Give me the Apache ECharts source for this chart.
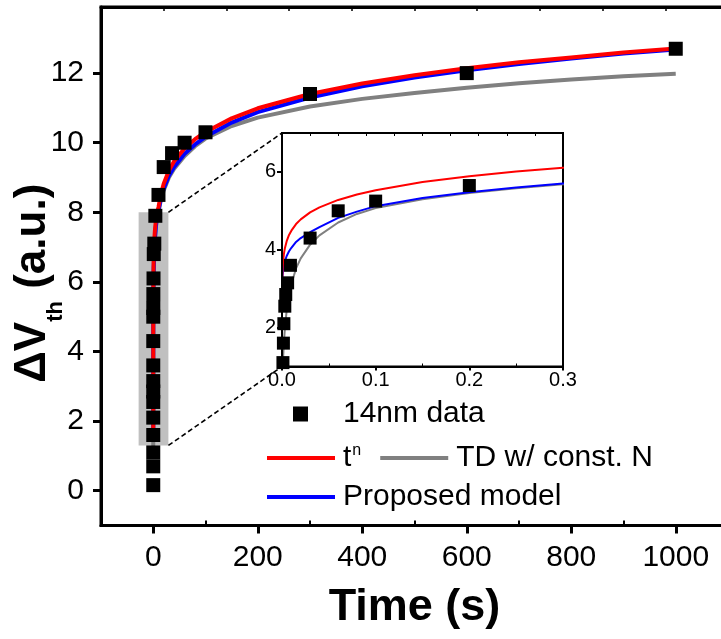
<!DOCTYPE html>
<html><head><meta charset="utf-8">
<script src="https://cdn.jsdelivr.net/npm/echarts@6/dist/echarts.min.js"></script>
<style>html,body{margin:0;padding:0;background:#fff}#c{width:721px;height:639px}</style>
</head><body><div id="c"></div>
<script>
// ---- measured data (14nm) ----
const dataTime  = [0.0001, 0.0005, 0.001, 0.0015, 0.002, 0.003, 0.004, 0.006, 0.009, 0.03, 0.06, 0.1, 0.2, 0.5, 1, 2, 4, 10, 20, 36, 60, 100, 300, 600, 1000];
const dataDVth  = [0.16, 0.7, 1.1, 1.6, 2.1, 2.55, 2.85, 3.15, 3.6, 4.3, 5.0, 5.25, 5.65, 6.1, 6.8, 7.1, 7.9, 8.5, 9.3, 9.7, 10.0, 10.3, 11.4, 12.0, 12.7];
// ---- model curves ----
const curveTime  = [1e-7, 1e-6, 1e-5, 1e-4, 0.0005, 0.001, 0.002, 0.003, 0.005, 0.0075, 0.01, 0.015, 0.02, 0.03, 0.04, 0.06, 0.08, 0.1, 0.15, 0.2, 0.25, 0.3, 0.5, 1, 2, 3, 5, 7, 10, 15, 20, 30, 40, 60, 80, 100, 150, 200, 300, 400, 500, 600, 700, 800, 900, 1000];
const curveTn    = [1.59, 1.96, 2.41, 2.96, 3.43, 3.65, 3.89, 4.03, 4.22, 4.38, 4.49, 4.66, 4.78, 4.96, 5.09, 5.28, 5.42, 5.53, 5.74, 5.89, 6.01, 6.11, 6.40, 6.81, 7.2, 7.45, 7.78, 7.96, 8.15, 8.55, 8.82, 9.2, 9.47, 9.84, 10.1, 10.31, 10.7, 10.99, 11.4, 11.7, 11.94, 12.14, 12.31, 12.45, 12.59, 12.71];
const curveModel = [1.40, 1.90, 2.45, 2.95, 3.3, 3.45, 3.6, 3.7, 3.84, 3.96, 4.05, 4.2, 4.3, 4.45, 4.58, 4.82, 4.98, 5.12, 5.33, 5.48, 5.6, 5.7, 6.0, 6.42, 6.9, 7.2, 7.6, 7.85, 8.05, 8.42, 8.68, 9.05, 9.3, 9.68, 9.95, 10.17, 10.58, 10.88, 11.3, 11.62, 11.87, 12.08, 12.26, 12.42, 12.56, 12.68];
const curveTD    = [null, null, null, null, null, 1.15, 1.6, 1.95, 2.45, 2.85, 3.12, 3.52, 3.78, 4.13, 4.37, 4.7, 4.92, 5.07, 5.3, 5.46, 5.58, 5.68, 5.98, 6.4, 6.88, 7.18, 7.56, 7.8, 8.02, 8.38, 8.63, 9.0, 9.25, 9.62, 9.9, 10.12, 10.48, 10.72, 11.04, 11.26, 11.43, 11.58, 11.71, 11.82, 11.91, 11.98];
// ---- axes / ticks ----
const mainXRange = [-100, 1100];
const mainYRange = [-1, 13.9];
const mainXTicks = [0, 200, 400, 600, 800, 1000];
const mainXMinor = [100, 300, 500, 700, 900];
const mainXTop   = [20, 140, 260, 380, 500, 620, 740, 860, 980];
const mainYTicks = [0, 2, 4, 6, 8, 10, 12];
const insetXRange = [0, 0.3];
const insetYRange = [1, 7];
const insetXTicks = [0, 0.1, 0.2, 0.3];
const insetXMinor = [0.05, 0.15, 0.25];
const insetXTop   = [0.03, 0.06, 0.09, 0.12, 0.15, 0.18, 0.21, 0.24, 0.27];
const insetYTicks = [2, 4, 6];
const zoomBox = [[-28, 1.3], [29, 8]];

const FONT = "'Liberation Sans', Arial, sans-serif";
const pts = (xs, ys) => xs.map((x, i) => [x, ys[i]]);
const dataPts = pts(dataTime, dataDVth);

const chart = echarts.init(document.getElementById('c'), null, {renderer: 'canvas'});

const lineSeries = (name, ys, color, w, xi, yi, z) => ({
  name, type: 'line', data: pts(curveTime, ys), xAxisIndex: xi, yAxisIndex: yi,
  showSymbol: false, symbol: 'none', lineStyle: {color, width: w, opacity: 1}, itemStyle: {color},
  z, clip: true, connectNulls: false
});

const option = {
  animation: false,
  backgroundColor: '#fff',
  textStyle: {fontFamily: FONT},
  grid: [
    {left: 101, top: 7, width: 627, height: 518.5, containLabel: false, outerBoundsMode: 'none',
     show: true, borderColor: '#000', borderWidth: 3, backgroundColor: 'transparent', z: 0},
    {left: 282, top: 133, width: 281, height: 233.5, containLabel: false, outerBoundsMode: 'none',
     show: true, borderColor: '#000', borderWidth: 2, backgroundColor: '#fff', z: 4}
  ],
  xAxis: [
    {gridIndex: 0, type: 'value', position: 'bottom', min: mainXRange[0], max: mainXRange[1], z: 3,
     axisLine: {show: true, onZero: false, lineStyle: {color: '#000', width: 3}},
     axisTick: {show: true, inside: false, length: 8, customValues: mainXTicks, lineStyle: {color: '#000', width: 3}},
     axisLabel: {show: true, customValues: mainXTicks, margin: 17, fontSize: 30, color: '#000', fontFamily: FONT,
                 formatter: v => String(v)},
     splitLine: {show: false},
     name: 'Time (s)', nameLocation: 'middle', nameGap: 60, nameMoveOverlap: false,
     nameTextStyle: {fontSize: 45, fontWeight: 'bold', color: '#000', fontFamily: FONT}},
    {gridIndex: 0, type: 'value', position: 'bottom', min: mainXRange[0], max: mainXRange[1], z: 3,
     axisLine: {show: false, onZero: false},
     axisTick: {show: true, inside: true, length: 5, customValues: mainXMinor, lineStyle: {color: '#000', width: 2}},
     axisLabel: {show: false}, splitLine: {show: false}},
    {gridIndex: 0, type: 'value', position: 'top', min: mainXRange[0], max: mainXRange[1], z: 3,
     axisLine: {show: true, onZero: false, lineStyle: {color: '#000', width: 3}},
     axisTick: {show: true, inside: true, length: 4, customValues: mainXTop, lineStyle: {color: '#000', width: 1.5}},
     axisLabel: {show: false}, splitLine: {show: false}},
    {gridIndex: 1, type: 'value', position: 'bottom', min: insetXRange[0], max: insetXRange[1], z: 6,
     axisLine: {show: true, onZero: false, lineStyle: {color: '#000', width: 2}},
     axisTick: {show: true, inside: false, length: 4, customValues: insetXTicks, lineStyle: {color: '#000', width: 2}},
     axisLabel: {show: true, customValues: insetXTicks, margin: 4, fontSize: 20, color: '#000', fontFamily: FONT,
                 formatter: v => Number(v).toFixed(1)},
     splitLine: {show: false}},
    {gridIndex: 1, type: 'value', position: 'bottom', min: insetXRange[0], max: insetXRange[1], z: 6,
     axisLine: {show: false, onZero: false},
     axisTick: {show: true, inside: true, length: 3, customValues: insetXMinor, lineStyle: {color: '#000', width: 1}},
     axisLabel: {show: false}, splitLine: {show: false}},
    {gridIndex: 1, type: 'value', position: 'top', min: insetXRange[0], max: insetXRange[1], z: 6,
     axisLine: {show: true, onZero: false, lineStyle: {color: '#000', width: 2}},
     axisTick: {show: true, inside: true, length: 3, customValues: insetXTop, lineStyle: {color: '#000', width: 1}},
     axisLabel: {show: false}, splitLine: {show: false}}
  ],
  yAxis: [
    {gridIndex: 0, type: 'value', position: 'left', min: mainYRange[0], max: mainYRange[1], z: 3,
     axisLine: {show: true, onZero: false, lineStyle: {color: '#000', width: 3}},
     axisTick: {show: true, inside: false, length: 8, customValues: mainYTicks, lineStyle: {color: '#000', width: 3}},
     axisLabel: {show: true, customValues: mainYTicks, margin: 17, fontSize: 30, color: '#000', fontFamily: FONT},
     splitLine: {show: false},
     name: '{m|\u0394V}{s|th}{m| (a.u.)}', nameLocation: 'middle', nameGap: 46, nameMoveOverlap: false,
     nameTextStyle: {color: '#000', fontFamily: FONT, padding: [0, 34, 0, 0],
       rich: {
         m: {fontSize: 44, fontWeight: 'bold', lineHeight: 44, color: '#000', fontFamily: FONT},
         s: {fontSize: 22, fontWeight: 'bold', lineHeight: 22, padding: [45, 0, 0, 0], color: '#000', fontFamily: FONT}
       }}},
    {gridIndex: 1, type: 'value', position: 'left', min: insetYRange[0], max: insetYRange[1], z: 6,
     axisLine: {show: true, onZero: false, lineStyle: {color: '#000', width: 2}},
     axisTick: {show: true, inside: false, length: 5, customValues: insetYTicks, lineStyle: {color: '#000', width: 2}},
     axisLabel: {show: true, customValues: insetYTicks, margin: 6, fontSize: 20, color: '#000', fontFamily: FONT},
     splitLine: {show: false}}
  ],
  legend: [
    {data: ['14nm data'], left: 293, top: 399, orient: 'horizontal', padding: 0, icon: 'rect',
     itemWidth: 15, itemHeight: 15, selectedMode: false, itemStyle: {opacity: 1, color: '#000'},
     textStyle: {fontSize: 30, color: '#000', fontFamily: FONT, padding: [0, 0, 0, 30]}},
    {data: ['t^n', 'TD w/ const. N'], left: 267, top: 443, orient: 'horizontal', padding: 0, icon: 'rect',
     itemWidth: 68, itemHeight: 4, itemGap: 19, selectedMode: false,
     formatter: n => n === 't^n' ? '{b|t}{s|n}' : n,
     textStyle: {fontSize: 30, color: '#000', fontFamily: FONT, padding: [0, 0, 0, 3],
       rich: {
         b: {fontSize: 30, lineHeight: 30, color: '#000', fontFamily: FONT},
         s: {fontSize: 16, lineHeight: 16, padding: [0, 0, 14, 1], color: '#000', fontFamily: FONT}
       }}},
    {data: ['Proposed model'], left: 267, top: 482, orient: 'horizontal', padding: 0, icon: 'rect',
     itemWidth: 68, itemHeight: 4, selectedMode: false,
     textStyle: {fontSize: 30, color: '#000', fontFamily: FONT, padding: [0, 0, 0, 3]}}
  ],
  series: [
    {name: 'zoom region', type: 'line', data: [], xAxisIndex: 0, yAxisIndex: 0, z: 1, silent: true,
     markArea: {silent: true, itemStyle: {color: '#c0c0c0', opacity: 1},
       data: [[{xAxis: zoomBox[0][0], yAxis: zoomBox[0][1]}, {xAxis: zoomBox[1][0], yAxis: zoomBox[1][1]}]]}},
    {name: '14nm data', type: 'scatter', data: dataPts, xAxisIndex: 0, yAxisIndex: 0, symbol: 'rect',
     symbolSize: 14, itemStyle: {color: '#000', opacity: 1}, z: 2},
    lineSeries('TD w/ const. N', curveTD, '#808080', 4, 0, 0, 2),
    lineSeries('Proposed model', curveModel, '#0000ff', 4, 0, 0, 2),
    lineSeries('t^n', curveTn, '#ff0000', 4, 0, 0, 2),
    {name: '14nm data', type: 'scatter', data: dataPts, xAxisIndex: 3, yAxisIndex: 1, symbol: 'rect',
     symbolSize: 13, itemStyle: {color: '#000', opacity: 1}, z: 5, clip: true},
    lineSeries('TD w/ const. N', curveTD, '#808080', 2, 3, 1, 5),
    lineSeries('Proposed model', curveModel, '#0000ff', 2, 3, 1, 5),
    lineSeries('t^n', curveTn, '#ff0000', 2, 3, 1, 5)
  ]
};
chart.setOption(option);

// dashed connector lines from zoom box to inset corners
const a1 = chart.convertToPixel({xAxisIndex: 0, yAxisIndex: 0}, [zoomBox[1][0], zoomBox[1][1]]);
const a2 = chart.convertToPixel({xAxisIndex: 3, yAxisIndex: 1}, [insetXRange[0], insetYRange[1]]);
const b1 = chart.convertToPixel({xAxisIndex: 0, yAxisIndex: 0}, [zoomBox[1][0], zoomBox[0][1]]);
const b2 = chart.convertToPixel({xAxisIndex: 3, yAxisIndex: 1}, [insetXRange[0], insetYRange[0]]);
const dash = {stroke: '#000', lineWidth: 1.6, lineDash: [5, 3]};
chart.setOption({graphic: [
  {type: 'line', shape: {x1: a1[0], y1: a1[1], x2: a2[0], y2: a2[1]}, style: dash, z: 10, silent: true},
  {type: 'line', shape: {x1: b1[0], y1: b1[1], x2: b2[0], y2: b2[1]}, style: dash, z: 10, silent: true}
]});
</script></body></html>
